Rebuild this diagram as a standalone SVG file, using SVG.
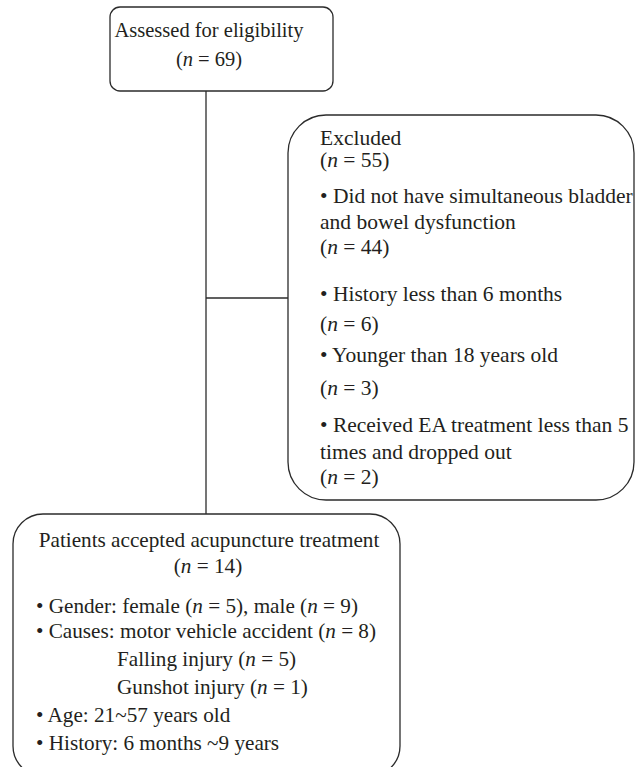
<svg xmlns="http://www.w3.org/2000/svg" width="644" height="767" viewBox="0 0 644 767">
<style>
.box{fill:#fff;stroke:#2b2b2b;stroke-width:1.3}
.ln{stroke:#2b2b2b;stroke-width:1.3;fill:none}
text{font-family:"Liberation Serif","Times New Roman",serif;font-size:21.2px;fill:#231f20}
#assessed text{font-size:20.5px}
#excluded text{font-size:21.5px}
.c{text-anchor:middle}
.i{font-style:italic}
</style>
<rect width="644" height="767" fill="#fff"/>
<g id="connectors">
<line class="ln" x1="206" y1="91" x2="206" y2="514"/>
<line class="ln" x1="206" y1="298" x2="288" y2="298"/>
</g>
<g id="assessed">
<rect class="box" x="110" y="7" width="223" height="84" rx="10"/>
<text class="c" x="209" y="37">Assessed for eligibility</text>
<text class="c" x="209" y="66">(<tspan class="i">n</tspan> = 69)</text>
</g>
<g id="excluded">
<rect class="box" x="288" y="115" width="346" height="385" rx="38"/>
<text x="320" y="145">Excluded</text>
<text x="320" y="167">(<tspan class="i">n</tspan> = 55)</text>
<text x="320" y="203">• Did not have simultaneous bladder</text>
<text x="320" y="229">and bowel dysfunction</text>
<text x="320" y="254">(<tspan class="i">n</tspan> = 44)</text>
<text x="320" y="301">• History less than 6 months</text>
<text x="320" y="331">(<tspan class="i">n</tspan> = 6)</text>
<text x="320" y="362">• Younger than 18 years old</text>
<text x="320" y="395">(<tspan class="i">n</tspan> = 3)</text>
<text x="320" y="432">• Received EA treatment less than 5</text>
<text x="320" y="459">times and dropped out</text>
<text x="320" y="484">(<tspan class="i">n</tspan> = 2)</text>
</g>
<g id="accepted">
<rect class="box" x="13" y="514" width="387" height="262" rx="30"/>
<text class="c" x="209" y="547">Patients accepted acupuncture treatment</text>
<text class="c" x="208" y="573">(<tspan class="i">n</tspan> = 14)</text>
<text x="36" y="613">• Gender: female (<tspan class="i">n</tspan> = 5), male (<tspan class="i">n</tspan> = 9)</text>
<text x="36" y="638">• Causes: motor vehicle accident (<tspan class="i">n</tspan> = 8)</text>
<text x="117" y="666">Falling injury (<tspan class="i">n</tspan> = 5)</text>
<text x="117" y="694">Gunshot injury (<tspan class="i">n</tspan> = 1)</text>
<text x="36" y="722">• Age: 21~57 years old</text>
<text x="36" y="750">• History: 6 months ~9 years</text>
</g>
</svg>
